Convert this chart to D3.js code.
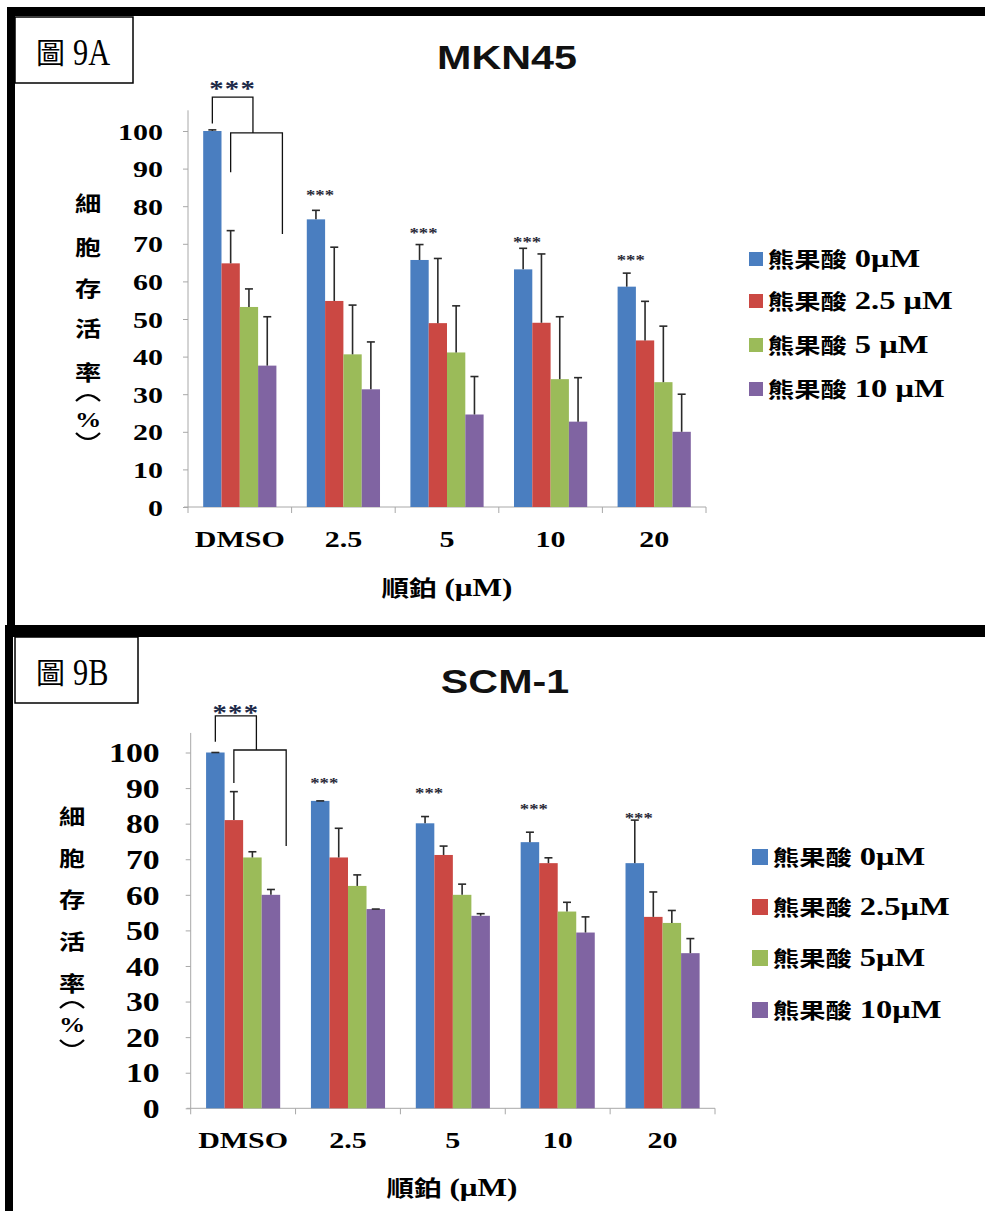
<!DOCTYPE html>
<html>
<head>
<meta charset="utf-8">
<script src="https://cdn.jsdelivr.net/npm/d3@7"></script>
<style>
  body { margin: 0; background: #fff; }
  svg { display: block; }
</style>
</head>
<body>
<div id="chart"></div>
<script>
// ---- data ----
const categories = ["DMSO", "2.5", "5", "10", "20"];
const yTicks = [0, 10, 20, 30, 40, 50, 60, 70, 80, 90, 100];
const seriesNamesA = ["熊果酸 0μM", "熊果酸 2.5 μM", "熊果酸 5 μM", "熊果酸 10 μM"];
const seriesNamesB = ["熊果酸 0μM", "熊果酸 2.5μM", "熊果酸 5μM", "熊果酸 10μM"];

// MKN45: one row per series (0, 2.5, 5, 10 μM), one column per category
const meanA = [
    [100, 76.5, 65.7, 63.2, 58.6],
    [64.8, 54.8, 48.9, 49.0, 44.3],
    [53.2, 40.6, 41.1, 34.0, 33.2],
    [37.6, 31.3, 24.6, 22.7, 20.0]
];
const errA = [
    [0.3, 2.4, 4.1, 5.6, 3.6],
    [8.7, 14.3, 17.2, 18.3, 10.4],
    [4.8, 13.1, 12.4, 16.6, 14.9],
    [13.0, 12.6, 10.1, 11.7, 10.0]
];
const starsA = [null, 83.5, 73.4, 71.0, 66.2];

// SCM-1
const meanB = [
    [100, 86.4, 80.1, 74.8, 68.9],
    [81.0, 70.5, 71.2, 68.9, 53.8],
    [70.5, 62.5, 60.0, 55.3, 52.1],
    [60.0, 56.0, 54.1, 49.4, 43.6]
];
const errB = [
    [0, 0, 1.9, 2.8, 12.1],
    [8.0, 8.2, 2.5, 1.5, 7.0],
    [1.6, 3.1, 3.0, 2.6, 3.5],
    [1.5, 0, 0.6, 4.4, 4.1]
];
const starsB = [null, 92.1, 89.3, 84.7, 82.1];

// levels (in % units) of the DMSO significance bracket
const bracketA = {stars: 112.6, top: 109, leftEnd: 102, level2: 99.5, redEnd: 89, rightEnd: 72.6};
const bracketB = {stars: 112.6, top: 110.3, leftEnd: 103, level2: 100.7, redEnd: 91.4, rightEnd: 73.7};

const yLabelChars = ["細", "胞", "存", "活", "率"];

// ---- style ----
const colors = ["#4a7ec0", "#cb4843", "#9bbb59", "#8064a2"];
const SERIF = "'Liberation Serif', 'Times New Roman', serif";
const CJK = "'Noto Sans CJK TC', sans-serif";
const SANS = "'Liberation Sans', Arial, sans-serif";
const SX = 1.25;   // the scan is stretched sideways

const width = 985, height = 1211;
const svg = d3.select("#chart").append("svg")
    .attr("width", width)
    .attr("height", height)
    .attr("viewBox", [0, 0, width, height]);

svg.append("rect").attr("width", width).attr("height", height).attr("fill", "#fff");

function stext(g, x, y, str, size, opts) {
    opts = opts || {};
    return g.append("text")
        .attr("transform", `translate(${x},${y}) scale(${opts.sx || SX},1)`)
        .attr("text-anchor", opts.anchor || "start")
        .attr("font-family", opts.family || SERIF)
        .attr("font-weight", opts.weight || "bold")
        .attr("font-size", size)
        .attr("fill", opts.fill || "#000")
        .text(str);
}

function drawPanel(P) {
    const g = svg.append("g");
    const y = d3.scaleLinear().domain([0, 100]).range([P.y0, P.y100]);
    const x0 = d3.scaleBand().domain(categories).range([P.xL, P.xR]);
    const x1 = d3.scaleBand().domain(d3.range(4)).range([0, x0.bandwidth()])
        .paddingInner(0).paddingOuter(0.83);
    const bw = x1.bandwidth();

    // title
    stext(g, P.titleX, P.titleY, P.title, 33, {family: SANS, anchor: "middle", fill: "#111"});

    // label box
    g.append("rect")
        .attr("x", P.box[0]).attr("y", P.box[1])
        .attr("width", P.box[2]).attr("height", P.box[3])
        .attr("fill", "#fff").attr("stroke", "#000").attr("stroke-width", 1.5);
    g.append("text")
        .attr("x", P.box[0] + 21).attr("y", P.box[1] + 47)
        .attr("font-family", CJK).attr("font-size", 29).attr("font-weight", "normal")
        .text("圖");
    stext(g, P.box[0] + 58, P.box[1] + 48, P.boxLabel, 37, {weight: "normal", sx: 0.82});

    // y axis
    const yAxis = g.append("g")
        .attr("transform", `translate(${P.xL},0)`)
        .call(d3.axisLeft(y).tickValues(yTicks).tickSize(5).tickSizeOuter(0));
    yAxis.select(".domain").remove();
    yAxis.selectAll(".tick line").attr("stroke", "#a8a8a8");
    yAxis.selectAll(".tick text")
        .attr("x", -P.tickGap / SX)
        .attr("dy", "0.34em")
        .attr("transform", `scale(${SX},1)`)
        .attr("font-family", SERIF)
        .attr("font-weight", "bold")
        .attr("font-size", P.tickSize)
        .attr("fill", "#000");
    g.append("line")
        .attr("x1", P.xL).attr("x2", P.xL)
        .attr("y1", y(0)).attr("y2", y(105.5))
        .attr("stroke", "#a8a8a8");

    // x axis
    g.append("line")
        .attr("x1", P.xL - 4).attr("x2", P.xR)
        .attr("y1", y(0)).attr("y2", y(0))
        .attr("stroke", "#a8a8a8");
    const bounds = categories.map(c => x0(c)).concat([P.xR]);
    g.selectAll(".xtick").data(bounds).join("line")
        .attr("x1", d => d).attr("x2", d => d)
        .attr("y1", y(0)).attr("y2", y(0) + 6)
        .attr("stroke", "#a8a8a8");
    categories.forEach(c => {
        stext(g, x0(c) + x0.bandwidth() / 2, P.xLabelY, c, 24, {anchor: "middle"});
    });

    // x title
    const xt = stext(g, P.xTitleX, P.xTitleY, "", 25, {anchor: "middle"});
    xt.append("tspan").attr("font-family", CJK).attr("font-size", 22).text("順鉑");
    xt.append("tspan").text(" (μM)");

    // y title, stacked characters, with vertical-form brackets round the %
    yLabelChars.forEach((ch, i) => {
        stext(g, P.yTitleX, P.yTitleY[i], ch, 21, {family: CJK, anchor: "middle"});
    });
    const px = P.yTitleX;
    g.append("path")
        .attr("d", `M${px - 12},${P.parenY[0] + 4}Q${px},${P.parenY[0] - 8} ${px + 12},${P.parenY[0] + 4}`)
        .attr("fill", "none").attr("stroke", "#000").attr("stroke-width", 2.2);
    stext(g, px, P.parenY[1] + 7, "%", 21, {anchor: "middle"});
    g.append("path")
        .attr("d", `M${px - 12},${P.parenY[2] - 4}Q${px},${P.parenY[2] + 8} ${px + 12},${P.parenY[2] - 4}`)
        .attr("fill", "none").attr("stroke", "#000").attr("stroke-width", 2.2);

    // bars
    const flat = [];
    P.mean.forEach((row, s) => row.forEach((v, ci) => {
        flat.push({s: s, c: categories[ci], v: v, e: P.err[s][ci]});
    }));
    g.append("g").selectAll("rect").data(flat).join("rect")
        .attr("x", d => x0(d.c) + x1(d.s))
        .attr("y", d => y(d.v))
        .attr("width", bw)
        .attr("height", d => y(0) - y(d.v))
        .attr("fill", d => colors[d.s]);

    // error bars (upper half only)
    const eb = g.append("g").attr("stroke", "#2a2a2a").attr("stroke-width", 1.6);
    eb.selectAll(".w").data(flat).join("line")
        .attr("x1", d => x0(d.c) + x1(d.s) + bw / 2)
        .attr("x2", d => x0(d.c) + x1(d.s) + bw / 2)
        .attr("y1", d => y(d.v)).attr("y2", d => y(d.v + d.e));
    eb.selectAll(".cap").data(flat).join("line")
        .attr("x1", d => x0(d.c) + x1(d.s) + bw / 2 - 4)
        .attr("x2", d => x0(d.c) + x1(d.s) + bw / 2 + 4)
        .attr("y1", d => y(d.v + d.e)).attr("y2", d => y(d.v + d.e));

    // small stars over the 0 μM bars
    P.stars.forEach((sv, ci) => {
        if (sv == null) return;
        const cx = x0(categories[ci]) + x1(0) + bw / 2 + 4;
        stext(g, cx, y(sv) + 7, "***", 15, {anchor: "middle", fill: "#2a2a38"});
    });

    // DMSO bracket
    const B = P.bracket, c0 = categories[0];
    const xBlue = x0(c0) + x1(0) + bw / 2;
    const xRed = x0(c0) + x1(1) + bw / 2;
    const xMid = x0(c0) + x1(2) + bw / 2 + 4;
    const xEnd = x0(c0) + x1(3) + bw + 6;
    const br = g.append("g").attr("fill", "none").attr("stroke", "#111").attr("stroke-width", 1.3);
    br.append("path").attr("d",
        `M${xBlue},${y(B.leftEnd)}V${y(B.top)}H${xMid}V${y(B.level2)}`);
    br.append("path").attr("d",
        `M${xRed},${y(B.redEnd)}V${y(B.level2)}H${xEnd}V${y(B.rightEnd)}`);
    stext(g, (xBlue + xMid) / 2, y(B.stars) + 12, "***", 23,
        {anchor: "middle", weight: "bold", fill: "#1d2a48"}).attr("letter-spacing", 1);

    // legend
    const lg = g.append("g");
    P.names.forEach((name, i) => {
        const cy = P.legendY[i];
        lg.append("rect")
            .attr("x", P.legendX).attr("y", cy - P.legendSq / 2)
            .attr("width", P.legendSq).attr("height", P.legendSq)
            .attr("fill", colors[i]);
        const parts = name.match(/^(\S+)(.*)$/);
        const t = stext(lg, P.legendX + P.legendSq + 5, cy + 8, "", 26);
        t.append("tspan").attr("font-family", CJK).attr("font-size", 21).text(parts[1]);
        t.append("tspan").text(parts[2]);
    });
}

// frames
svg.append("rect").attr("x", 7).attr("y", 7).attr("width", 978).attr("height", 9).attr("fill", "#000");
svg.append("rect").attr("x", 7).attr("y", 7).attr("width", 8).attr("height", 620).attr("fill", "#000");
svg.append("rect").attr("x", 5).attr("y", 625).attr("width", 980).attr("height", 12).attr("fill", "#000");
svg.append("rect").attr("x", 5).attr("y", 625).attr("width", 8).attr("height", 586).attr("fill", "#000");

drawPanel({
    title: "MKN45", titleX: 507, titleY: 69,
    box: [15, 17, 118, 66], boxLabel: "9A",
    y0: 507, y100: 131, xL: 188, xR: 706,
    tickGap: 25, tickSize: 24,
    xLabelY: 547, xTitleX: 447, xTitleY: 596,
    yTitleX: 88, yTitleY: [211, 255, 296, 336, 380], parenY: [397, 420, 437],
    mean: meanA, err: errA, stars: starsA, bracket: bracketA,
    names: seriesNamesA, legendX: 749, legendSq: 14, legendY: [259, 301, 345, 389]
});

drawPanel({
    title: "SCM-1", titleX: 505, titleY: 693,
    box: [15, 637, 123, 66], boxLabel: "9B",
    y0: 1108.3, y100: 752.5, xL: 190.7, xR: 715,
    tickGap: 31, tickSize: 27,
    xLabelY: 1148, xTitleX: 452, xTitleY: 1196,
    yTitleX: 72, yTitleY: [824, 866, 907, 949, 991], parenY: [1004, 1025, 1044],
    mean: meanB, err: errB, stars: starsB, bracket: bracketB,
    names: seriesNamesB, legendX: 752, legendSq: 16, legendY: [857, 907, 958, 1010]
});
</script>
</body>
</html>
